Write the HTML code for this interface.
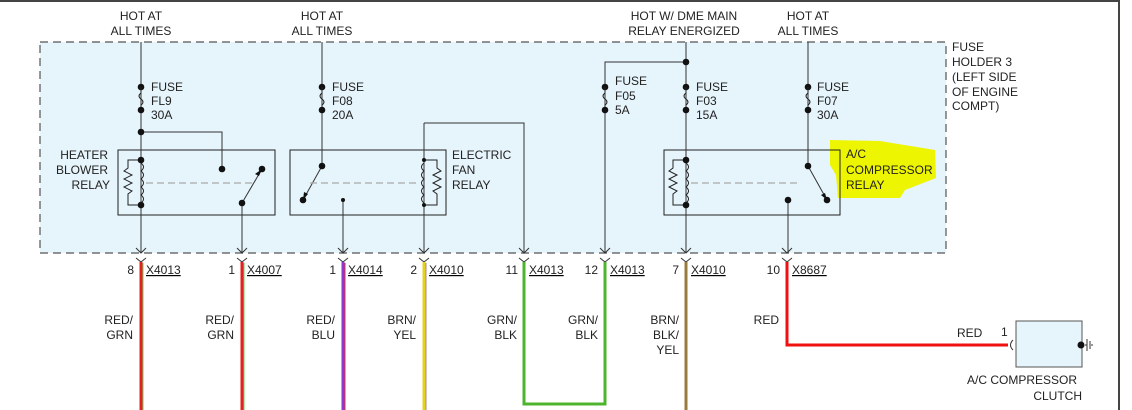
<!DOCTYPE html>
<html><head><meta charset="utf-8"><style>
html,body{margin:0;padding:0;background:#fff;}
svg{display:block;}
text{font-family:"Liberation Sans",Arial,sans-serif;font-size:12px;fill:#222;}
</style></head><body>
<svg width="1132" height="410" viewBox="0 0 1132 410" xmlns="http://www.w3.org/2000/svg">
<defs>
<g id="coilL">
 <!-- coil with zigzag on left, anchor at x=0 (main line), y from 0 to 45 -->
 <path d="M0,3 q5,4 0,8 q5,4 0,8 q5,4 0,8 q5,4 0,8 q5,4 0,8" fill="none" stroke="#222" stroke-width="1"/>
 <path d="M0,0 H-13 V8 l-4,3 l8,4 l-8,4 l8,4 l-8,4 l8,4 l-4,3 V45 H0" fill="none" stroke="#222" stroke-width="1"/>
 <circle cx="0" cy="0" r="3.3" fill="#111"/>
 <circle cx="0" cy="45" r="3.3" fill="#111"/>
</g>
<g id="coilR">
 <path d="M0,3 q-5,4 0,8 q-5,4 0,8 q-5,4 0,8 q-5,4 0,8 q-5,4 0,8" fill="none" stroke="#222" stroke-width="1"/>
 <path d="M0,0 H13 V8 l4,3 l-8,4 l8,4 l-8,4 l8,4 l-8,4 l4,3 V45 H0" fill="none" stroke="#222" stroke-width="1"/>
 <circle cx="0" cy="0" r="2" fill="#111"/>
 <circle cx="0" cy="45" r="2" fill="#111"/>
</g>
<g id="fuse">
 <circle cx="0" cy="0" r="3.3" fill="#111"/>
 <path d="M0,0 V6 q-4,3 0,6 q4,3 0,6 V23" fill="none" stroke="#222" stroke-width="1"/>
 <circle cx="0" cy="23" r="3.3" fill="#111"/>
</g>
<g id="pin">
 <path d="M-5,248 L0,253 L5,248" fill="none" stroke="#333" stroke-width="1"/>
 <path d="M-5,258 L0,262 L5,258" fill="none" stroke="#333" stroke-width="1"/>
</g>
</defs>

<!-- border -->
<rect x="0" y="0" width="1120" height="2" fill="#444"/>
<rect x="1118" y="0" width="2" height="410" fill="#444"/>

<!-- fuse holder -->
<rect x="40" y="42" width="906" height="211" fill="#e6f4fb" stroke="#555" stroke-width="1.2" stroke-dasharray="8,5"/>
<text x="952" y="51">FUSE</text>
<text x="952" y="66">HOLDER 3</text>
<text x="952" y="81">(LEFT SIDE</text>
<text x="952" y="96">OF ENGINE</text>
<text x="952" y="110">COMPT)</text>

<!-- top labels -->
<g text-anchor="middle">
<text x="141" y="20">HOT AT</text><text x="141" y="35">ALL TIMES</text>
<text x="322" y="20">HOT AT</text><text x="322" y="35">ALL TIMES</text>
<text x="684" y="20">HOT W/ DME MAIN</text><text x="684" y="35">RELAY ENERGIZED</text>
<text x="808" y="20">HOT AT</text><text x="808" y="35">ALL TIMES</text>
</g>

<!-- highlight -->
<path d="M830,140 L880,141 L935,150 L936,178 L905,190 L900,198 L838,198 L836,175 L830,165 Z" fill="#eef500"/>

<!-- relay boxes -->
<rect x="118" y="150" width="157" height="65" fill="#e6f4fb" stroke="#222" stroke-width="1"/>
<rect x="290" y="150" width="156" height="65" fill="#e6f4fb" stroke="#222" stroke-width="1"/>
<rect x="664" y="150" width="176" height="65" fill="none" stroke="#222" stroke-width="1"/>

<g stroke="#333" stroke-width="1" fill="none">
 <!-- col 141 -->
 <path d="M141,42 V253"/>
 <path d="M141,132 H222 V169"/>
 <!-- col 242 -->
 <path d="M242,203 V253"/>
 <path d="M242,203 L262,169"/>
 <!-- col 322 -->
 <path d="M322,42 V166 L303,200"/>
 <path d="M343,200 V253"/>
 <!-- col 424 -->
 <path d="M424,123 V253"/>
 <path d="M424,123 H524 V253"/>
 <!-- col 605/686 -->
 <path d="M686,42 V253"/>
 <path d="M686,62 H605 V253"/>
 <!-- col 808 -->
 <path d="M808,42 V166 L827,200"/>
 <path d="M788,200 V253"/>
</g>
<!-- dashed mechanical links -->
<g stroke="#aaa" stroke-width="1.2" stroke-dasharray="7,4">
 <path d="M146,183 H255"/>
 <path d="M310,183 H418"/>
 <path d="M691,183 H800"/>
</g>

<!-- coils -->
<use href="#coilL" x="141" y="160"/>
<use href="#coilR" x="424" y="160"/>
<use href="#coilL" x="686" y="160"/>
<!-- fuses -->
<use href="#fuse" x="141" y="87"/>
<use href="#fuse" x="322" y="87"/>
<use href="#fuse" x="605" y="87"/>
<use href="#fuse" x="686" y="87"/>
<use href="#fuse" x="808" y="87"/>

<!-- dots -->
<g fill="#111">
 <circle cx="141" cy="132" r="3.3"/>
 <circle cx="222" cy="169" r="3.3"/>
 <circle cx="262" cy="169" r="3.3"/>
 <circle cx="242" cy="203" r="3.3"/>
 <circle cx="322" cy="166" r="3.3"/>
 <circle cx="303" cy="200" r="3.3"/>
 <circle cx="343" cy="200" r="2"/>
 <circle cx="686" cy="62" r="3.3"/>
 <circle cx="808" cy="166" r="3.3"/>
 <circle cx="827" cy="200" r="3.3"/>
 <circle cx="788" cy="200" r="3.3"/>
</g>
<!-- switch arrowheads -->
<g fill="#111">
 <path d="M262,169 l-7,5 l4,2 z"/>
 <path d="M303,200 l1,-8 l4,2 z"/>
 <path d="M827,200 l-6,-5 l4,-2 z"/>
</g>

<!-- fuse labels -->
<text x="151" y="91">FUSE</text><text x="151" y="105">FL9</text><text x="151" y="119">30A</text>
<text x="332" y="91">FUSE</text><text x="332" y="105">F08</text><text x="332" y="119">20A</text>
<text x="615" y="85">FUSE</text><text x="615" y="100">F05</text><text x="615" y="114">5A</text>
<text x="696" y="91">FUSE</text><text x="696" y="105">F03</text><text x="696" y="119">15A</text>
<text x="817" y="91">FUSE</text><text x="817" y="105">F07</text><text x="817" y="119">30A</text>

<!-- relay labels -->
<g text-anchor="end">
<text x="108" y="159">HEATER</text><text x="108" y="174">BLOWER</text><text x="110" y="189">RELAY</text>
</g>
<text x="452" y="159">ELECTRIC</text><text x="452" y="174">FAN</text><text x="452" y="189">RELAY</text>
<text x="846" y="158">A/C</text><text x="846" y="174">COMPRESSOR</text><text x="846" y="189">RELAY</text>

<!-- pins -->
<use href="#pin" x="141"/><use href="#pin" x="242"/><use href="#pin" x="343"/><use href="#pin" x="424"/>
<use href="#pin" x="524"/><use href="#pin" x="605"/><use href="#pin" x="686"/><use href="#pin" x="787"/>

<!-- connector labels -->
<g text-anchor="end">
<text x="134" y="274">8</text><text x="235" y="274">1</text><text x="336" y="274">1</text><text x="417" y="274">2</text>
<text x="518" y="274">11</text><text x="598" y="274">12</text><text x="679" y="274">7</text><text x="780" y="274">10</text>
</g>
<g text-decoration="underline">
<text x="146" y="274">X4013</text><text x="247" y="274">X4007</text><text x="348" y="274">X4014</text><text x="429" y="274">X4010</text>
<text x="529" y="274">X4013</text><text x="610" y="274">X4013</text><text x="691" y="274">X4010</text><text x="792" y="274">X8687</text>
</g>

<!-- wires -->
<g fill="none" stroke-width="3">
 <path d="M141,262 V410" stroke="#e52020"/>
 <path d="M242,262 V410" stroke="#e52020"/>
 <path d="M343,262 V410" stroke="#8a3ad0"/>
 <path d="M424,262 V410" stroke="#e6d21e"/>
 <path d="M524,262 V404 H605 V262" stroke="#4db52d"/>
 <path d="M686,262 V410" stroke="#9a7b3e"/>
 <path d="M787,262 V345 H1008" stroke="#f01010"/>
</g>
<g fill="none" stroke-width="1">
 <path d="M143,263 V410" stroke="#6c6"/>
 <path d="M244,263 V410" stroke="#6c6"/>
 <path d="M345,263 V410" stroke="#d33"/>
 <path d="M426,263 V410" stroke="#a88"/>
</g>

<!-- wire labels -->
<g text-anchor="end">
<text x="133" y="324">RED/</text><text x="133" y="339">GRN</text>
<text x="234" y="324">RED/</text><text x="234" y="339">GRN</text>
<text x="335" y="324">RED/</text><text x="335" y="339">BLU</text>
<text x="416" y="324">BRN/</text><text x="416" y="339">YEL</text>
<text x="517" y="324">GRN/</text><text x="517" y="339">BLK</text>
<text x="598" y="324">GRN/</text><text x="598" y="339">BLK</text>
<text x="679" y="324">BRN/</text><text x="679" y="339">BLK/</text><text x="679" y="354">YEL</text>
<text x="779" y="324">RED</text>
</g>
<text x="957" y="337">RED</text>

<!-- clutch -->
<text x="1001" y="336">1</text>
<path d="M1013,340 q-5,5 0,10" fill="none" stroke="#333" stroke-width="1"/>
<rect x="1016" y="321" width="66" height="46" fill="#e6f4fb" stroke="#555" stroke-width="1"/>
<circle cx="1081" cy="345" r="3.5" fill="#111"/>
<path d="M1085,345 H1087 M1087,339 V351 M1090,341 V349 M1092,344 V346" stroke="#333" stroke-width="1"/>
<text x="1022" y="384" text-anchor="middle" style="fill:#222">A/C COMPRESSOR</text>
<text x="1082" y="400" text-anchor="end">CLUTCH</text>
</svg>
</body></html>
